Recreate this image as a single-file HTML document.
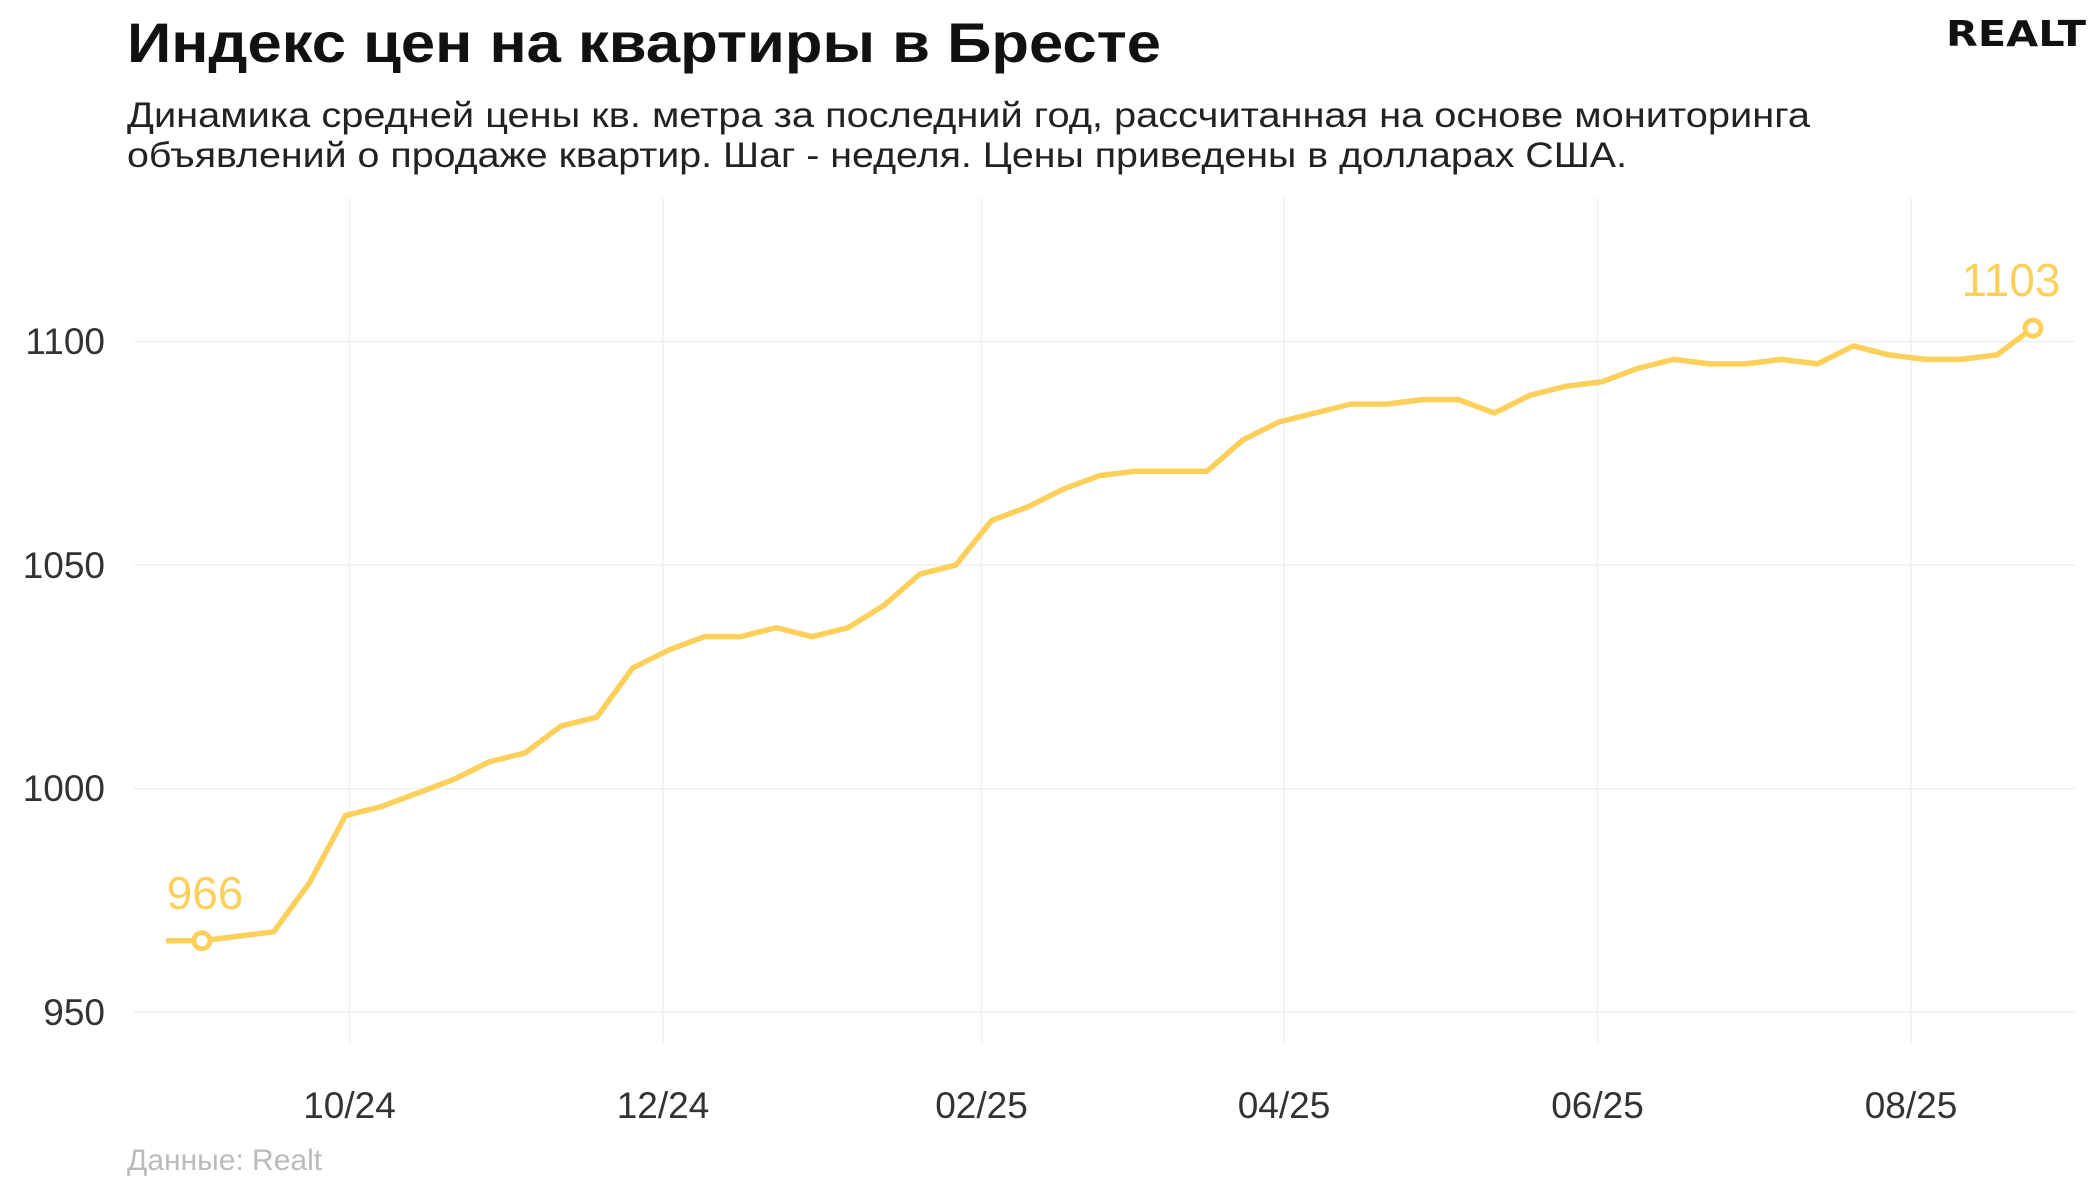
<!DOCTYPE html>
<html><head><meta charset="utf-8"><style>
body{margin:0;background:#fff;}
svg{display:block;font-family:"Liberation Sans","DejaVu Sans",sans-serif;}
</style></head><body>
<svg width="2100" height="1200" xmlns="http://www.w3.org/2000/svg">
<rect width="2100" height="1200" fill="#fff"/>
<text x="127" y="62" font-size="56" font-weight="bold" fill="#111" textLength="1034" lengthAdjust="spacingAndGlyphs">Индекс цен на квартиры в Бресте</text>
<text x="1946" y="46" font-size="36" font-weight="bold" fill="#111" font-family="DejaVu Sans, sans-serif" textLength="140" lengthAdjust="spacingAndGlyphs">REALT</text>
<text x="127" y="127" font-size="35" fill="#222" textLength="1683" lengthAdjust="spacingAndGlyphs">Динамика средней цены кв. метра за последний год, рассчитанная на основе мониторинга</text>
<text x="127" y="167" font-size="35" fill="#222" textLength="1500" lengthAdjust="spacingAndGlyphs">объявлений о продаже квартир. Шаг - неделя. Цены приведены в долларах США.</text>
<g stroke="#f0f0f0" stroke-width="1.5">
<line x1="134" x2="2075" y1="341.5" y2="341.5"/>
<line x1="134" x2="2075" y1="565" y2="565"/>
<line x1="134" x2="2075" y1="788.7" y2="788.7"/>
<line x1="134" x2="2075" y1="1012.3" y2="1012.3"/>
<line x1="349.5" x2="349.5" y1="198" y2="1044"/>
<line x1="663" x2="663" y1="198" y2="1044"/>
<line x1="981.5" x2="981.5" y1="198" y2="1044"/>
<line x1="1284" x2="1284" y1="198" y2="1044"/>
<line x1="1597.5" x2="1597.5" y1="198" y2="1044"/>
<line x1="1911" x2="1911" y1="198" y2="1044"/>
</g>
<g font-size="37" fill="#333" text-anchor="end">
<text x="105" y="354">1100</text>
<text x="105" y="578">1050</text>
<text x="105" y="801">1000</text>
<text x="105" y="1025">950</text>
</g>
<g font-size="37" fill="#333" text-anchor="middle">
<text x="349.5" y="1118">10/24</text>
<text x="663" y="1118">12/24</text>
<text x="981.5" y="1118">02/25</text>
<text x="1284" y="1118">04/25</text>
<text x="1597.5" y="1118">06/25</text>
<text x="1911" y="1118">08/25</text>
</g>
<text x="127" y="1170" font-size="30" fill="#bbb">Данные: Realt</text>
<g transform="translate(166,5260.7) scale(35.9,-4.472)">
<polyline fill="none" stroke="#fcd05a" stroke-width="5.5" vector-effect="non-scaling-stroke" stroke-linejoin="round"
points="0,966 1,966 2,967 3,968 4,979 5,994 6,996 7,999 8,1002 9,1006 10,1008 11,1014 12,1016 13,1027 14,1031 15,1034 16,1034 17,1036 18,1034 19,1036 20,1041 21,1048 22,1050 23,1060 24,1063 25,1067 26,1070 27,1071 28,1071 29,1071 30,1078 31,1082 32,1084 33,1086 34,1086 35,1087 36,1087 37,1084 38,1088 39,1090 40,1091 41,1094 42,1096 43,1095 44,1095 45,1096 46,1095 47,1099 48,1097 49,1096 50,1096 51,1097 52,1103"/>
</g>
<circle cx="201.9" cy="940.7" r="8" fill="#fff" stroke="#fcd05a" stroke-width="5"/>
<circle cx="2033" cy="328.1" r="8" fill="#fff" stroke="#fcd05a" stroke-width="5"/>
<text x="205" y="909" font-size="46" fill="#fcd05a" text-anchor="middle">966</text>
<text x="2011" y="296" font-size="46" fill="#fcd05a" text-anchor="middle">1103</text>
</svg>
</body></html>
